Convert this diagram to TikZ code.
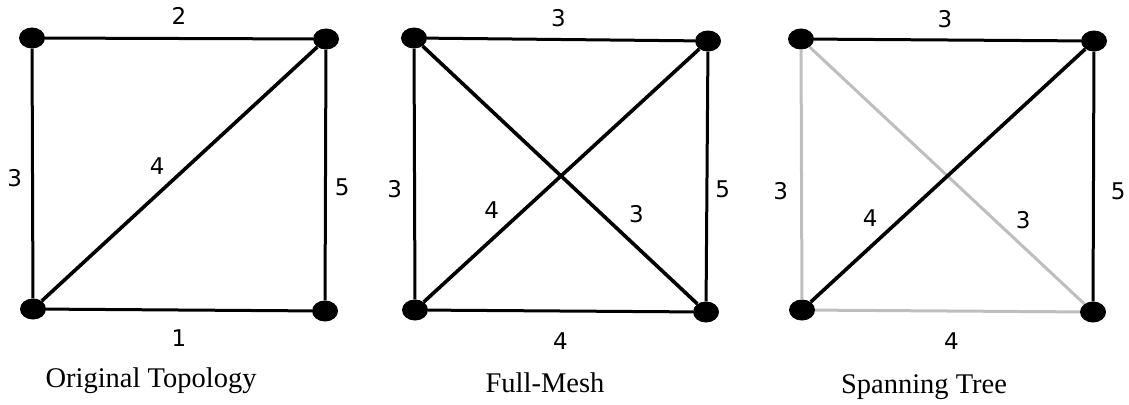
\documentclass[tikz,border=0pt]{standalone}
\usepackage{fontspec}
\setmainfont{Liberation Serif}
\newfontfamily\numfont{DejaVu Sans}
\usepackage{tikz}
\usetikzlibrary{shapes.geometric, positioning}
\definecolor{unused}{HTML}{BEBEBE}
\tikzset{
  % Routers
  router/.style={
    ellipse, fill=black, draw=none, inner sep=0pt,
    minimum width=26pt, minimum height=21pt,
  },
  % Links
  link/.style={draw=black, line width=3pt, #1},
  link/.default={},
  crosslink/.style={draw=black, line width=3.6pt, #1},
  crosslink/.default={},
  % Link costs
  cost/.style={font=\numfont\fontsize{23}{23}\selectfont, text=black, inner sep=2pt},
  % Captions
  caption/.style={font=\fontsize{28.5}{30}\selectfont, anchor=base},
}

\begin{document}
\begin{tikzpicture}[x=1pt, y=-1pt]
  \useasboundingbox (0,0) rectangle (1129,404);

  % Original topology
  \node[router] (otl) at (32,38) {};
  \node[router] (otr) at (326,39) {};
  \node[router] (obl) at (33,309) {};
  \node[router] (obr) at (325,311) {};

  \draw[link] (otl) -- (otr) node[cost, midway, above=10pt] {2};
  \draw[link] (otl) -- (obl) node[cost, pos=0.52, left=7pt] {3};
  \draw[link] (otr) -- (obr) node[cost, pos=0.55, right=6pt] {5};
  \draw[link] (obl) -- (obr) node[cost, midway, below=16pt] {1};
  \draw[crosslink] (obl) -- (otr) node[cost, pos=0.47, above left=4pt] {4};

  \node[caption] (otitle) at (151,387) {Original Topology};

  % Full mesh
  \node[router] (mtl) at (414,38) {};
  \node[router] (mtr) at (708,41) {};
  \node[router] (mbl) at (415,310) {};
  \node[router] (mbr) at (706,312) {};

  \draw[link] (mtl) -- (mtr) node[cost, pos=0.49, above=9pt] {3};
  \draw[link] (mtl) -- (mbl) node[cost, pos=0.56, left=9pt] {3};
  \draw[link] (mtr) -- (mbr) node[cost, pos=0.55, right=5pt] {5};
  \draw[link] (mbl) -- (mbr) node[cost, midway, below=18pt] {4};
  \draw[crosslink] (mbl) -- (mtr) node[cost, pos=0.3, above left=5pt] {4};
  \draw[crosslink] (mtl) -- (mbr) node[cost, pos=0.72, above right=7pt] {3};

  \node[caption] (mtitle) at (545,392) {Full-Mesh};

  % Spanning tree
  \node[router] (stl) at (801,39) {};
  \node[router] (str) at (1094,41) {};
  \node[router] (sbl) at (802,310) {};
  \node[router] (sbr) at (1093,312) {};

  \draw[link=unused] (stl) -- (sbl) node[cost, pos=0.565, left=10pt] {3};
  \draw[link=unused] (sbl) -- (sbr) node[cost, pos=0.515, below=18pt] {4};
  \draw[link=unused] (stl) -- (sbr) node[cost, pos=0.73, above right=3pt] {3};
  \draw[link] (stl) -- (str) node[cost, pos=0.49, above=9pt] {3};
  \draw[link] (str) -- (sbr) node[cost, pos=0.56, right=14pt] {5};
  \draw[crosslink] (sbl) -- (str) node[cost, pos=0.27, above left=5pt] {4};

  \node[caption] (stitle) at (924,393) {Spanning Tree};
\end{tikzpicture}
\end{document}
